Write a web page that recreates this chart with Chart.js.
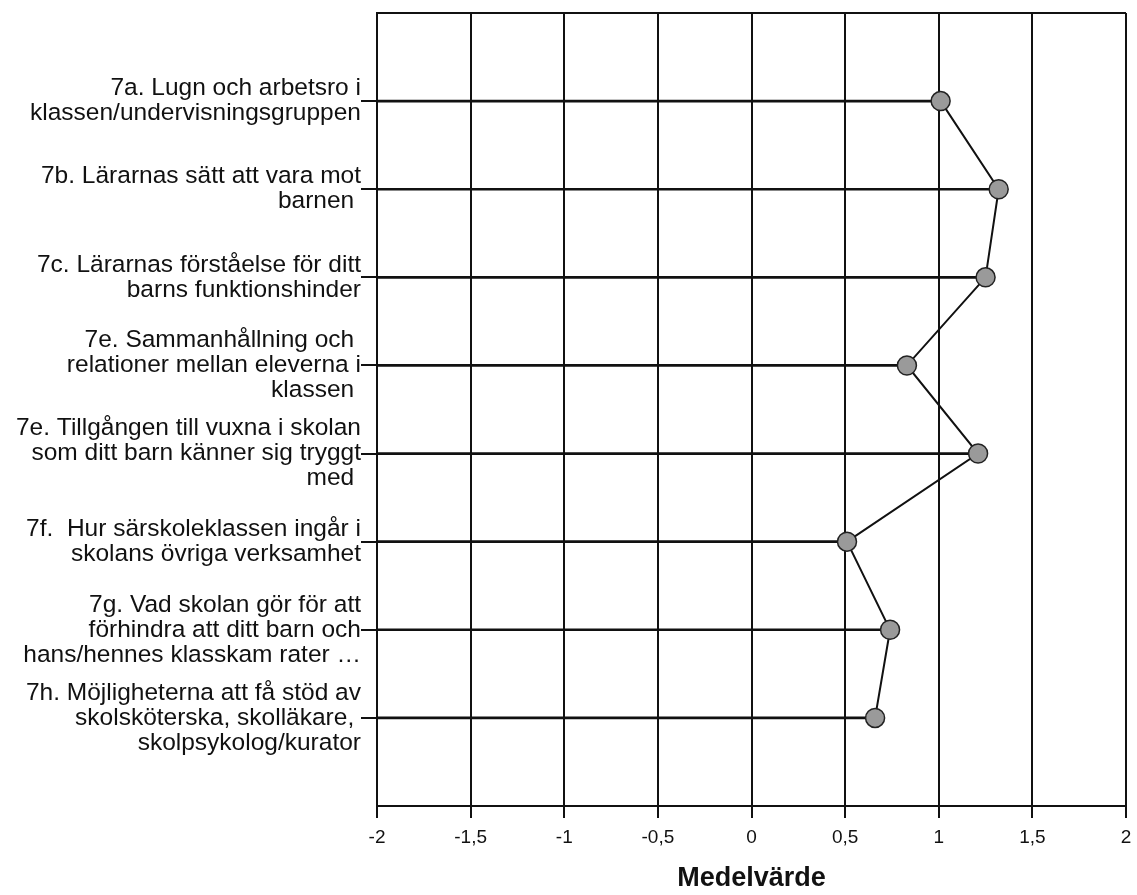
<!DOCTYPE html>
<html lang="sv">
<head>
    <meta charset="UTF-8">
    <title>Medelvärde</title>
    <script src="https://cdn.jsdelivr.net/npm/chart.js"></script>
    <style>
        html, body { margin: 0; padding: 0; background: #ffffff; }
        canvas { display: block; }
    </style>
</head>
<body>
    <canvas id="chart" width="1137" height="895"></canvas>
    <script>
        // question labels (one array of lines per question)
        var questions = [
            ['7a. Lugn och arbetsro i', 'klassen/undervisningsgruppen'],
            ['7b. Lärarnas sätt att vara mot', 'barnen '],
            ['7c. Lärarnas förståelse för ditt', 'barns funktionshinder'],
            ['7e. Sammanhållning och ', 'relationer mellan eleverna i', 'klassen '],
            ['7e. Tillgången till vuxna i skolan', 'som ditt barn känner sig tryggt', 'med '],
            ['7f.  Hur särskoleklassen ingår i', 'skolans övriga verksamhet'],
            ['7g. Vad skolan gör för att', 'förhindra att ditt barn och', 'hans/hennes klasskam rater …'],
            ['7h. Möjligheterna att få stöd av', 'skolsköterska, skolläkare, ', 'skolpsykolog/kurator']
        ];
        var means = [1.01, 1.32, 1.25, 0.83, 1.21, 0.51, 0.74, 0.66];
        var xTicks = [-2, -1.5, -1, -0.5, 0, 0.5, 1, 1.5, 2];

        var positions = questions.map(function (q, i) { return i + 1; });
        var points = means.map(function (v, i) { return { x: v, y: positions[i] }; });

        var ctx = document.getElementById('chart').getContext('2d');
        new Chart(ctx, {
            type: 'bar',
            data: {
                datasets: [
                    {
                        type: 'line',
                        indexAxis: 'y',
                        data: points,
                        borderColor: '#111',
                        borderWidth: 2,
                        pointRadius: 9.5,
                        pointBackgroundColor: '#9a9a9a',
                        pointBorderColor: '#222',
                        pointBorderWidth: 1.5,
                        tension: 0
                    },
                    {
                        type: 'bar',
                        indexAxis: 'y',
                        data: points,
                        base: xTicks[0],
                        backgroundColor: '#111',
                        barThickness: 2
                    }
                ]
            },
            options: {
                responsive: false,
                animation: false,
                indexAxis: 'y',
                layout: { padding: { top: 13, right: 9, left: 0, bottom: 0 } },
                plugins: {
                    legend: { display: false },
                    tooltip: { enabled: false }
                },
                scales: {
                    x: {
                        type: 'linear',
                        min: xTicks[0],
                        max: xTicks[xTicks.length - 1],
                        afterBuildTicks: function (scale) {
                            scale.ticks = xTicks.map(function (v) { return { value: v }; });
                        },
                        ticks: {
                            color: '#111',
                            font: { family: 'Liberation Sans', size: 19 },
                            padding: 8,
                            maxRotation: 0,
                            callback: function (v) { return String(v).replace('.', ','); }
                        },
                        grid: { color: '#111', lineWidth: 2, tickLength: 12, tickColor: '#111' },
                        border: { color: '#111', width: 2 },
                        title: {
                            display: true,
                            text: 'Medelvärde',
                            color: '#111',
                            font: { family: 'Liberation Sans', size: 27, weight: 'bold' },
                            padding: { top: 0, bottom: 0 }
                        },
                        afterFit: function (scale) {
                            scale.height = 89;
                            scale.paddingLeft = 0;
                            scale.paddingRight = 0;
                        }
                    },
                    y: {
                        type: 'linear',
                        reverse: true,
                        offset: false,
                        min: 0,
                        max: questions.length + 1,
                        ticks: {
                            stepSize: 1,
                            autoSkip: false,
                            padding: 0,
                            color: '#111',
                            font: { family: 'Liberation Sans', size: 24.5, lineHeight: 1.02 },
                            callback: function (v) {
                                return (v >= 1 && v <= questions.length) ? questions[v - 1] : '';
                            }
                        },
                        grid: {
                            offset: false,
                            lineWidth: 2,
                            tickLength: 16,
                            color: function (c) {
                                return c.tick && c.tick.value === 0 ? '#111' : 'rgba(0,0,0,0)';
                            },
                            tickColor: function (c) {
                                return c.tick && c.tick.value >= 1 && c.tick.value <= questions.length ? '#111' : 'rgba(0,0,0,0)';
                            }
                        },
                        border: { color: '#111', width: 2 },
                        afterFit: function (scale) {
                            scale.width = 377;
                            scale.paddingTop = 0;
                            scale.paddingBottom = 0;
                        }
                    }
                }
            }
        });
    </script>
</body>
</html>
